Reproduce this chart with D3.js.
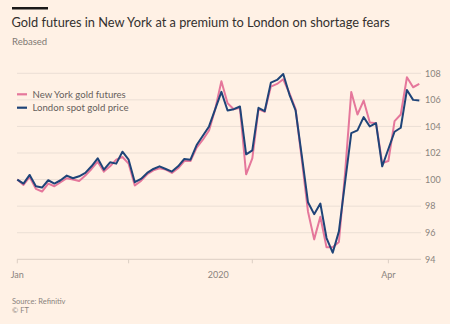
<!DOCTYPE html>
<html>
<head>
<meta charset="utf-8">
<script src="https://cdn.jsdelivr.net/npm/d3@7"></script>
<style>
  body { margin: 0; background: #fff1e5; }
  svg { display: block; font-family: Lato, "Noto Sans", sans-serif; }
</style>
</head>
<body>
<svg id="chart" width="450" height="324"></svg>
<script>
// Trading days from 8 Jan 2020 to 8 Apr 2020, rebased to 100
const startDate = new Date(2020, 0, 8);
const endDate = new Date(2020, 3, 9);

const newYork = [
    100.0, 99.6, 100.2, 99.3, 99.1, 99.7, 99.5, 99.8, 100.1, 100.0,
    99.9, 100.3, 100.8, 101.35, 100.6, 101.0, 101.5, 101.7, 101.2, 99.55,
    99.9, 100.4, 100.7, 100.85, 100.75, 100.5, 100.85, 101.4, 101.4, 102.4,
    103.0, 103.7, 105.3, 107.4, 105.75, 105.3, 105.4, 100.4, 101.6, 105.3,
    105.1, 107.0, 107.2, 107.55, 106.5, 105.3, 101.5, 97.6, 95.5, 97.2,
    94.9, 94.9, 95.3, 100.5, 106.6, 104.9, 105.95, 104.3, 104.25, 101.25,
    101.4, 104.4, 104.9, 107.7, 106.95, 107.2
];

const london = [
    100.0, 99.7, 100.35, 99.5, 99.4, 99.95, 99.7, 99.95, 100.3, 100.1,
    100.25, 100.5, 101.0, 101.6, 100.75, 101.3, 101.2, 102.1, 101.5, 99.8,
    100.05, 100.5, 100.8, 101.0, 100.8, 100.6, 101.0, 101.55, 101.5, 102.6,
    103.3, 104.0, 105.3, 106.6, 105.2, 105.3, 105.5, 101.9, 102.2, 105.4,
    105.15, 107.3, 107.5, 107.95, 106.4, 105.2, 101.8, 98.3, 97.4, 98.2,
    95.6, 94.5, 96.1, 99.8, 103.5, 103.7, 104.7, 104.0, 104.25, 101.0,
    102.3, 103.6, 103.9, 106.75, 106.0, 105.95
];

const yTicks = [94, 96, 98, 100, 102, 104, 106, 108];
const monthTicks = [new Date(2020, 0, 8), new Date(2020, 1, 3), new Date(2020, 2, 2), new Date(2020, 3, 1)];
const xLabels = [
    { date: new Date(2020, 0, 8), text: "Jan" },
    { date: new Date(2020, 3, 1), text: "Apr" }
];
const yearLabel = "2020";

const seriesNames = ["New York gold futures", "London spot gold price"];
const seriesColors = ["#e5779b", "#1f4478"];

// trading days (weekdays)
const days = d3.timeDay.range(startDate, endDate).filter(d => d.getDay() !== 0 && d.getDay() !== 6);
const dayIndex = d => days.findIndex(x => +x === +d);

const svg = d3.select("#chart");

const x = d3.scaleLinear().domain([0, days.length - 1]).range([17.3, 419.3]);
const y = d3.scaleLinear().domain([94, 108]).range([259.3, 73.3]);

// header
svg.append("rect").attr("x", 12).attr("y", 7).attr("width", 36).attr("height", 2.5).attr("fill", "#1a1817");
svg.append("text").attr("x", 11.5).attr("y", 26.5)
    .attr("font-size", 12.8).attr("fill", "#33302e")
    .text("Gold futures in New York at a premium to London on shortage fears");
svg.append("text").attr("x", 12).attr("y", 45)
    .attr("font-size", 9.5).attr("fill", "#807973")
    .text("Rebased");

// grid
svg.append("g").selectAll("line")
    .data(yTicks)
    .join("line")
    .attr("x1", 17).attr("x2", 421)
    .attr("y1", d => y(d)).attr("y2", d => y(d))
    .attr("stroke", d => d === 94 ? "#dccfc4" : "#ebdfd5")
    .attr("stroke-width", 1);

svg.append("g").selectAll("text")
    .data(yTicks)
    .join("text")
    .attr("x", 425).attr("y", d => y(d) + 3.3)
    .attr("font-size", 9).attr("fill", "#8a837d")
    .text(d => d);

// x axis ticks
svg.append("g").selectAll("line")
    .data(monthTicks)
    .join("line")
    .attr("x1", d => x(dayIndex(d))).attr("x2", d => x(dayIndex(d)))
    .attr("y1", y(94)).attr("y2", y(94) + 4)
    .attr("stroke", "#dccfc4");

svg.append("g").selectAll("text")
    .data(xLabels)
    .join("text")
    .attr("x", d => x(dayIndex(d.date))).attr("y", 278)
    .attr("text-anchor", "middle")
    .attr("font-size", 9).attr("fill", "#8a837d")
    .text(d => d.text);

svg.append("text")
    .attr("x", (x.range()[0] + x.range()[1]) / 2).attr("y", 278)
    .attr("text-anchor", "middle")
    .attr("font-size", 9).attr("fill", "#8a837d")
    .text(yearLabel);

// lines
const line = d3.line().x((d, i) => x(i)).y(d => y(d));
[newYork, london].forEach((s, k) => {
    svg.append("path")
        .datum(s)
        .attr("fill", "none")
        .attr("stroke", seriesColors[k])
        .attr("stroke-width", 2)
        .attr("stroke-linejoin", "round")
        .attr("d", line);
});

// legend
const legend = svg.append("g").selectAll("g")
    .data(seriesNames)
    .join("g")
    .attr("transform", (d, i) => `translate(17, ${94.3 + i * 13.4})`);
legend.append("line")
    .attr("x1", 0).attr("x2", 10)
    .attr("stroke", (d, i) => seriesColors[i])
    .attr("stroke-width", 2.2);
legend.append("text")
    .attr("x", 15.5).attr("y", 3.3)
    .attr("font-size", 9.6).attr("fill", "#66605c")
    .text(d => d);

// footer
svg.append("text").attr("x", 12).attr("y", 303.5)
    .attr("font-size", 7.5).attr("fill", "#8a837d")
    .text("Source: Refinitiv");
svg.append("text").attr("x", 12).attr("y", 313)
    .attr("font-size", 7.5).attr("fill", "#8a837d")
    .text("© FT");
</script>
</body>
</html>
